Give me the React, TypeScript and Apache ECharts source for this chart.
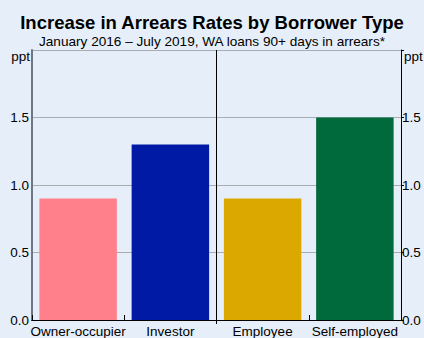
import React, { useEffect, useRef } from "react";
import * as echarts from "echarts";

const categories = ["Owner-occupier", "Investor", "Employee", "Self-employed"];
const values = [0.9, 1.3, 0.9, 1.5];
const barColors = ["#ff808a", "#001aa6", "#dba800", "#006a3c"];
const yTicks = [0, 0.5, 1.0, 1.5, 2.0];

const W = 424;
const H = 338;
const G = { left: 32, right: 23, top: 50, bottom: 14 };

export default function App() {
  const ref = useRef<HTMLDivElement>(null);
  useEffect(() => {
    if (!ref.current) return;
    const chart = echarts.init(ref.current, null, { renderer: "svg" });
    const font = "Liberation Sans, Arial, sans-serif";
    const plotW = W - G.left - G.right;
    const midX = G.left + plotW / 2;
    const yLabel = (v: number) => (v === yTicks[yTicks.length - 1] ? "" : v.toFixed(1));
    chart.setOption({
      animation: false,
      backgroundColor: "#e6eff9",
      title: {
        text: "Increase in Arrears Rates by Borrower Type",
        subtext: "January 2016 – July 2019, WA loans 90+ days in arrears*",
        left: "center",
        top: 8,
        itemGap: 2,
        textStyle: { fontFamily: font, fontWeight: "bold", fontSize: 18.5, color: "#000" },
        subtextStyle: { fontFamily: font, fontSize: 13.6, color: "#000" },
      },
      grid: G,
      xAxis: [
        {
          type: "category",
          data: categories,
          axisLine: { show: true, lineStyle: { color: "#000", width: 1 } },
          axisTick: { show: true, inside: true, length: 5, lineStyle: { color: "#000" } },
          axisLabel: { fontFamily: font, fontSize: 13.5, color: "#000", margin: 4, interval: 0 },
          splitLine: { show: false },
        },
        {
          type: "category",
          position: "top",
          data: categories,
          axisLine: { show: true, lineStyle: { color: "#000", width: 1 } },
          axisTick: { show: false },
          axisLabel: { show: false },
        },
      ],
      yAxis: [
        {
          type: "value",
          min: 0,
          max: 2,
          interval: 0.5,
          position: "left",
          axisLine: { show: true, lineStyle: { color: "#6e7884", width: 2 } },
          axisTick: { show: false },
          axisLabel: { fontFamily: font, fontSize: 13.5, color: "#000", margin: 3, formatter: yLabel },
          splitLine: { show: true, lineStyle: { color: "#a9adb2", width: 1 } },
        },
        {
          type: "value",
          min: 0,
          max: 2,
          interval: 0.5,
          position: "right",
          axisLine: { show: true, lineStyle: { color: "#000", width: 1 } },
          axisTick: { show: true, length: 3, lineStyle: { color: "#000" } },
          axisLabel: { fontFamily: font, fontSize: 13.5, color: "#000", margin: 1, formatter: yLabel },
          splitLine: { show: false },
        },
      ],
      series: [
        {
          type: "bar",
          data: values.map((v, i) => ({ value: v, itemStyle: { color: barColors[i] } })),
          barWidth: "84%",
        },
      ],
      graphic: [
        {
          type: "line",
          shape: { x1: midX, y1: G.top, x2: midX, y2: H - G.bottom },
          style: { stroke: "#000", lineWidth: 1 },
          z: 10,
        },
        {
          type: "text",
          right: W - G.left + 2,
          top: G.top - 1,
          style: { text: "ppt", fontFamily: font, fontSize: 13.5, fill: "#000" },
        },
        {
          type: "text",
          left: W - G.right + 3,
          top: G.top - 1,
          style: { text: "ppt", fontFamily: font, fontSize: 13.5, fill: "#000" },
        },
      ],
    });
    return () => chart.dispose();
  }, []);
  return <div ref={ref} style={{ width: W, height: H, position: "absolute", left: 0, top: 0 }} />;
}
